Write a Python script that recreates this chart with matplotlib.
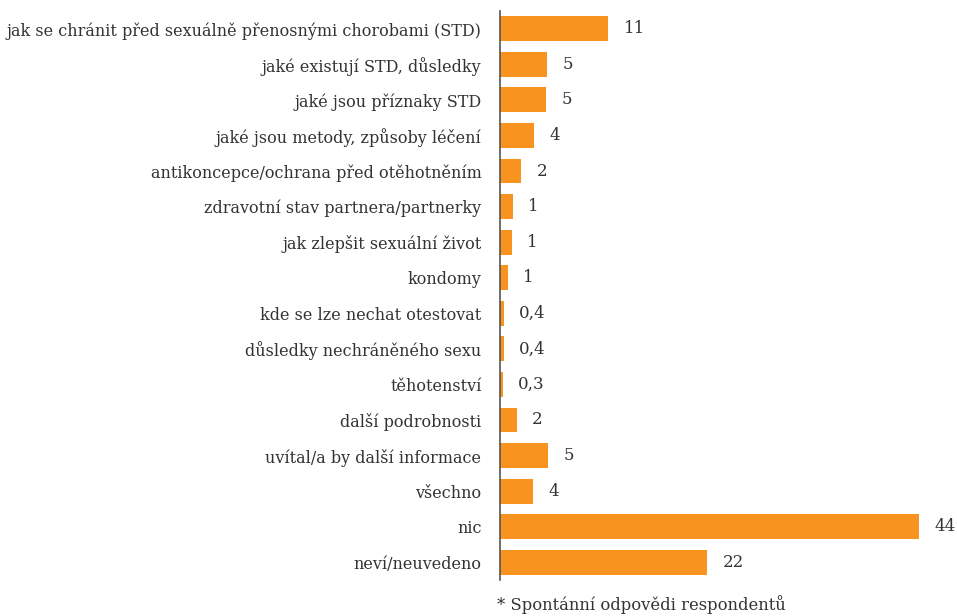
import matplotlib
matplotlib.use("Agg")
import matplotlib.pyplot as plt

categories = [
    "jak se chránit před sexuálně přenosnými chorobami (STD)",
    "jaké existují STD, důsledky",
    "jaké jsou příznaky STD",
    "jaké jsou metody, způsoby léčení",
    "antikoncepce/ochrana před otěhotněním",
    "zdravotní stav partnera/partnerky",
    "jak zlepšit sexuální život",
    "kondomy",
    "kde se lze nechat otestovat",
    "důsledky nechráněného sexu",
    "těhotenství",
    "další podrobnosti",
    "uvítal/a by další informace",
    "všechno",
    "nic",
    "neví/neuvedeno",
]
values = [11.4, 5.0, 4.9, 3.6, 2.3, 1.4, 1.3, 0.9, 0.45, 0.45, 0.37,
          1.8, 5.1, 3.5, 44, 21.8]
value_labels = ["11", "5", "5", "4", "2", "1", "1", "1", "0,4", "0,4", "0,3",
                "2", "5", "4", "44", "22"]

plt.rcParams['font.family'] = ['DejaVu Serif']
text_color = '#333333'
fs = 11.5

fig = plt.figure(figsize=(9.57, 6.16), dpi=100)
ax = fig.add_axes([499.5 / 957, 1 - 580 / 616, (919 - 499.5) / 957, (580 - 11) / 616])

y = list(range(len(categories)))
ax.barh(y, values, height=0.7, color='#F7931E')
ax.set_yticks(y)
ax.set_yticklabels(categories, fontsize=fs, color=text_color)
ax.set_ylim(len(categories) - 0.5, -0.5)
ax.set_xlim(0, 44)

# value labels next to the bar ends
for yi, v, lab in zip(y, values, value_labels):
    ax.annotate(lab, (v, yi), xytext=(11, 0), textcoords='offset points',
                va='center', ha='left', fontsize=fs + 0.5, color=text_color)

for side in ['top', 'right', 'bottom']:
    ax.spines[side].set_visible(False)
ax.spines['left'].set_color('#555555')
ax.spines['left'].set_linewidth(1.2)
ax.tick_params(axis='y', length=0, pad=13)
ax.set_xticks([])

fig.text(497 / 957, 1 - 605 / 616, "* Spontánní odpovědi respondentů",
         fontsize=fs + 0.3, color=text_color, va='center', ha='left')

fig.savefig("out.png", dpi=100)
